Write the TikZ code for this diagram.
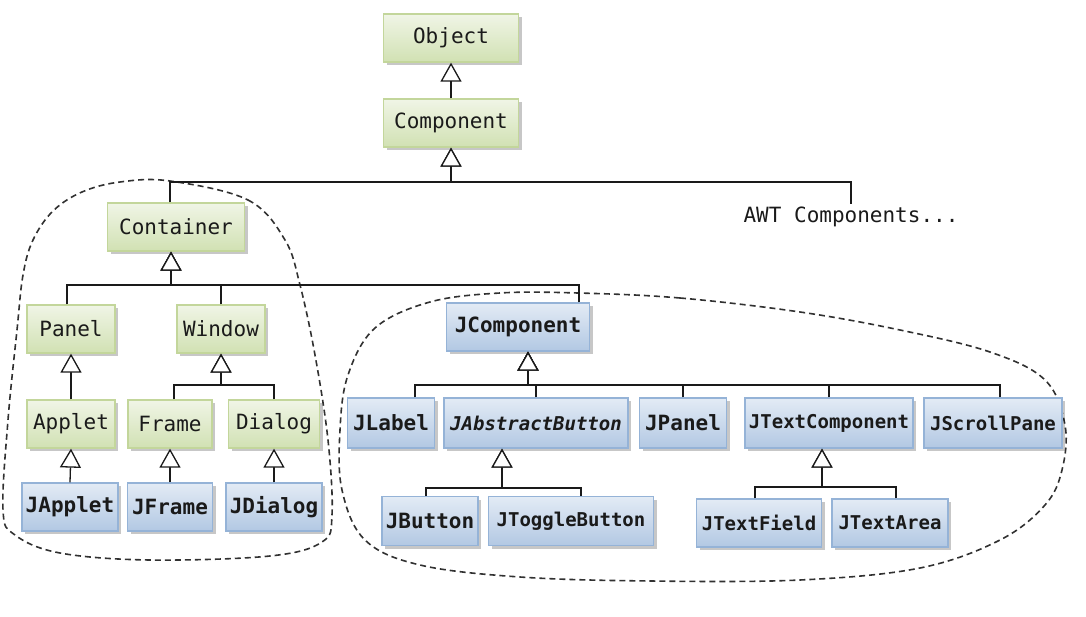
\documentclass[tikz,border=0pt]{standalone}
\usepackage{fontspec}
\setmonofont{DejaVu Sans Mono}
\usetikzlibrary{arrows.meta,shadows}

\definecolor{greentop}{HTML}{F0F5E6}
\definecolor{greenbot}{HTML}{D1E1B3}
\definecolor{greenedge}{HTML}{C3D69B}
\definecolor{bluetop}{HTML}{E3EBF5}
\definecolor{bluebot}{HTML}{B2C8E3}
\definecolor{blueedge}{HTML}{95B3D7}
\definecolor{ink}{HTML}{1A1A1A}

\tikzset{
  box/.style={line width=1.3pt, minimum height=48pt, inner sep=0pt, text=ink,
    drop shadow={shadow xshift=3pt, shadow yshift=-3pt, fill=black, opacity=0.22}},
  awtbox/.style={box, draw=greenedge, top color=greentop, bottom color=greenbot,
    font=\fontsize{21}{24}\selectfont\ttfamily},
  swingbox/.style={box, draw=blueedge, top color=bluetop, bottom color=bluebot,
    font=\fontsize{21}{24}\selectfont\ttfamily\bfseries},
  slim/.style={font=\fontsize{19}{22}\selectfont\ttfamily\bfseries},
  inh/.style={line width=1.3pt, draw=ink,
    -{Triangle[open, length=19pt, width=21pt, fill=white]}},
  group/.style={line width=1.6pt, draw=ink!90, dash pattern=on 6pt off 4pt}
}

\begin{document}
\begin{tikzpicture}[x=1pt,y=-1pt]
\useasboundingbox (0,0) rectangle (1086,617);

% package groups
\draw[group] plot[smooth cycle, tension=0.6] coordinates {
  (170,181) (248,200) (285,240) (300,285) (315,355) (328,440) (332,515)
  (322,542) (270,556) (150,560) (60,553) (15,535) (3,510) (8,420)
  (17,330) (23,275) (33,240) (53,211) (82,192) (120,182)};
\draw[group] plot[smooth cycle, tension=0.6] coordinates {
  (578,293) (680,298) (800,312) (900,330) (990,352) (1045,380) (1065,425)
  (1062,470) (1045,505) (1000,540) (920,568) (800,580) (650,581) (520,577)
  (420,565) (365,540) (342,490) (340,430) (348,375) (375,328) (430,302)
  (500,293)};

% AWT classes
\node[awtbox, minimum width=135pt] (obj)    at (451,38)  {Object};
\node[awtbox, minimum width=135pt] (comp)   at (451,123) {Component};
\node[awtbox, minimum width=137pt] (cont)   at (176,227) {Container};
\node[awtbox, minimum width=88pt]  (panel)  at (71,329)  {Panel};
\node[awtbox, minimum width=88pt]  (window) at (221,329) {Window};
\node[awtbox, minimum width=88pt]  (applet) at (71,424)  {Applet};
\node[awtbox, minimum width=84pt]  (frame)  at (170,424) {Frame};
\node[awtbox, minimum width=91pt]  (dialog) at (274,424) {Dialog};
\node[font=\fontsize{21}{24}\selectfont\ttfamily, text=ink, inner sep=3pt]
  (awt) at (851,217) {AWT Components...};

% Swing classes
\node[swingbox, minimum width=96pt]  (japplet) at (70,507)  {JApplet};
\node[swingbox, minimum width=85pt]  (jframe)  at (170,507) {JFrame};
\node[swingbox, minimum width=96pt]  (jdialog) at (274,507) {JDialog};
\node[swingbox, minimum width=143pt] (jcomp)   at (518,327) {JComponent};
\node[swingbox, minimum width=87pt, minimum height=50pt]  (jlabel)  at (391,423) {JLabel};
\node[swingbox, slim, minimum width=184pt, minimum height=50pt] (jabs) at (536,423) {\itshape JAbstractButton};
\node[swingbox, minimum width=87pt, minimum height=50pt]  (jpanel)  at (683,423) {JPanel};
\node[swingbox, slim, minimum width=168pt, minimum height=50pt] (jtext) at (829,423) {JTextComponent};
\node[swingbox, slim, minimum width=138pt, minimum height=50pt] (jscroll) at (993,423) {JScrollPane};
\node[swingbox, minimum width=96pt, minimum height=49pt]  (jbutton) at (430,521) {JButton};
\node[swingbox, slim, minimum width=165pt, minimum height=49pt] (jtoggle) at (571,521) {JToggleButton};
\node[swingbox, slim, minimum width=125pt] (jfield) at (759,523) {JTextField};
\node[swingbox, slim, minimum width=116pt] (jarea)  at (890,523) {JTextArea};

% junction points of the inheritance trees
\coordinate (compbar)   at (451,182);
\coordinate (contbar)   at (171,285);
\coordinate (windowbar) at (221,385);
\coordinate (jcompbar)  at (528,385);
\coordinate (jabsbar)   at (502,488);
\coordinate (jtextbar)  at (822,487);

% inheritance
\draw[inh] (comp.north) -- (obj.south);
\draw[inh] ([xshift=-6pt]cont.north) |- (compbar) -- (comp.south);
\draw[inh] (awt.north) |- (compbar) -- (comp.south);

\draw[inh] ([xshift=-4pt]panel.north) |- (contbar) -- ([xshift=-5pt]cont.south);
\draw[inh] (window.north) |- (contbar) -- ([xshift=-5pt]cont.south);
\draw[inh] ([xshift=61pt]jcomp.north) |- (contbar) -- ([xshift=-5pt]cont.south);

\draw[inh] (applet.north) -- (panel.south);
\draw[inh] ([xshift=4pt]frame.north) |- (windowbar) -- (window.south);
\draw[inh] (dialog.north) |- (windowbar) -- (window.south);

\draw[inh] (japplet.north) -- (applet.south);
\draw[inh] (jframe.north) -- (frame.south);
\draw[inh] (jdialog.north) -- (dialog.south);

\draw[inh] ([xshift=24pt]jlabel.north) |- (jcompbar) -- ([xshift=10pt]jcomp.south);
\draw[inh] (jabs.north) |- (jcompbar) -- ([xshift=10pt]jcomp.south);
\draw[inh] (jpanel.north) |- (jcompbar) -- ([xshift=10pt]jcomp.south);
\draw[inh] (jtext.north) |- (jcompbar) -- ([xshift=10pt]jcomp.south);
\draw[inh] ([xshift=7pt]jscroll.north) |- (jcompbar) -- ([xshift=10pt]jcomp.south);

\draw[inh] ([xshift=-4pt]jbutton.north) |- (jabsbar) -- ([xshift=-34pt]jabs.south);
\draw[inh] ([xshift=10pt]jtoggle.north) |- (jabsbar) -- ([xshift=-34pt]jabs.south);

\draw[inh] ([xshift=-4pt]jfield.north) |- (jtextbar) -- ([xshift=-7pt]jtext.south);
\draw[inh] ([xshift=6pt]jarea.north) |- (jtextbar) -- ([xshift=-7pt]jtext.south);
\end{tikzpicture}
\end{document}
